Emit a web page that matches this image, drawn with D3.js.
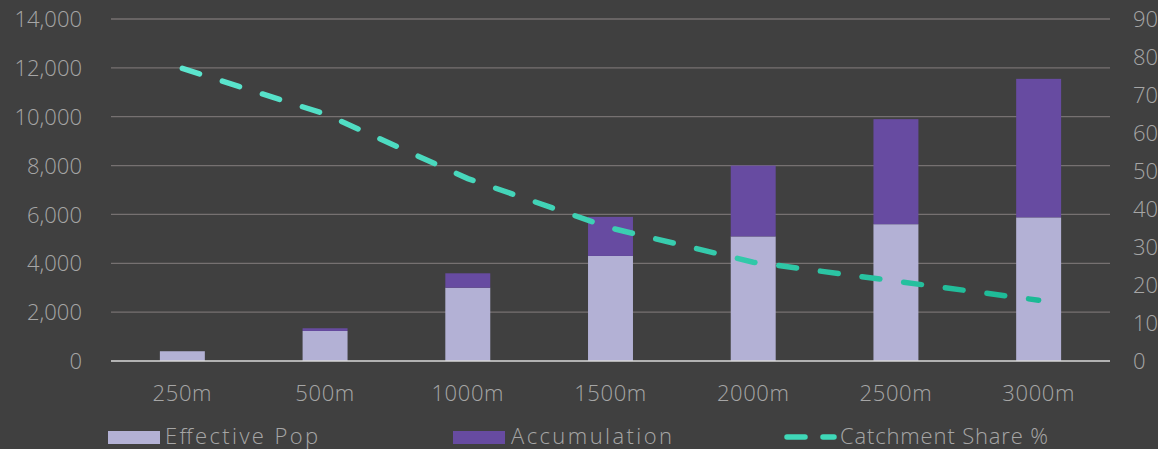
<!DOCTYPE html>
<html>
<head>
<meta charset="utf-8">
<script src="https://cdn.jsdelivr.net/npm/d3@7"></script>
<style>
  html, body { margin: 0; padding: 0; background: #404040; overflow: hidden; }
  svg { display: block; }
  text { font-family: "Open Sans", "DejaVu Sans", sans-serif; font-weight: 300; fill: #a6a6a6; }
</style>
</head>
<body>
<svg id="chart" width="1158" height="449"></svg>
<script>
const categories = ["250m", "500m", "1000m", "1500m", "2000m", "2500m", "3000m"];
const effectivePop = [400, 1230, 3000, 4300, 5100, 5600, 5880];
const accumulation = [0, 110, 590, 1600, 2900, 4300, 5670];
const catchmentShare = [77, 65, 48, 35, 26, 21, 16];
const leftTicks = [0, 2000, 4000, 6000, 8000, 10000, 12000, 14000];
const rightTicks = [0, 10, 20, 30, 40, 50, 60, 70, 80, 90];
const seriesNames = ["Effective Pop", "Accumulation", "Catchment Share %"];

const W = 1158, H = 449;
const plot = { left: 111, right: 1110, top: 19, bottom: 361 };
const colors = { eff: "#b3b1d5", acc: "#674ba1", grid: "#767171", base: "#d9d9d9" };

const svg = d3.select("#chart");
svg.append("rect").attr("width", W).attr("height", H).attr("fill", "#404040");

const defs = svg.append("defs");
const grad = defs.append("linearGradient").attr("id", "lineGrad")
  .attr("gradientUnits", "userSpaceOnUse")
  .attr("x1", 180).attr("y1", 0).attr("x2", 1040).attr("y2", 0);
grad.append("stop").attr("offset", "0%").attr("stop-color", "#5de6cf");
grad.append("stop").attr("offset", "100%").attr("stop-color", "#1bb995");

const x = d3.scaleBand().domain(categories).range([plot.left, plot.right])
  .paddingInner(0.685).paddingOuter(0.3425);
const y = d3.scaleLinear().domain([0, 14000]).range([plot.bottom, plot.top]);
const y2 = d3.scaleLinear().domain([0, 90]).range([plot.bottom, plot.top]);

// gridlines
svg.append("g").selectAll("line").data(leftTicks.filter(d => d > 0)).join("line")
  .attr("x1", plot.left).attr("x2", plot.right)
  .attr("y1", d => y(d)).attr("y2", d => y(d))
  .attr("stroke", colors.grid).attr("stroke-width", 1.3);

// left axis labels
const leftAxis = d3.axisLeft(y).tickValues(leftTicks).tickFormat(d3.format(",")).tickSize(0).tickPadding(0);
const gl = svg.append("g").attr("transform", "translate(82,0)").call(leftAxis);
gl.select(".domain").remove();
gl.selectAll("text").attr("font-size", 22).attr("fill", "#a6a6a6").attr("dy", "0.35em");

// right axis labels
const rightAxis = d3.axisRight(y2).tickValues(rightTicks).tickSize(0).tickPadding(0);
const gr = svg.append("g").attr("transform", "translate(1133,0)").call(rightAxis);
gr.select(".domain").remove();
gr.selectAll("text").attr("font-size", 22).attr("fill", "#a6a6a6").attr("dy", "0.35em");

// bars
const stackData = categories.map((c, i) => ({ cat: c, eff: effectivePop[i], acc: accumulation[i] }));
const stack = d3.stack().keys(["eff", "acc"])(stackData);
svg.append("g").selectAll("g").data(stack).join("g")
  .attr("fill", d => colors[d.key])
  .selectAll("rect").data(d => d).join("rect")
  .attr("x", d => x(d.data.cat))
  .attr("width", x.bandwidth())
  .attr("y", d => y(d[1]))
  .attr("height", d => Math.max(0, y(d[0]) - y(d[1])));

// baseline
svg.append("line").attr("x1", plot.left).attr("x2", plot.right)
  .attr("y1", plot.bottom).attr("y2", plot.bottom)
  .attr("stroke", colors.base).attr("stroke-width", 1.5);

// x labels
const bottomAxis = d3.axisBottom(x).tickSize(0).tickPadding(0);
const gb = svg.append("g").attr("transform", "translate(0,401)").call(bottomAxis);
gb.select(".domain").remove();
gb.selectAll("text").attr("font-size", 22).attr("fill", "#a6a6a6").attr("dy", 0)
  .attr("letter-spacing", 0.6);

// line
const line = d3.line()
  .x((d, i) => x(categories[i]) + x.bandwidth() / 2)
  .y(d => y2(d));
svg.append("path").datum(catchmentShare)
  .attr("d", line).attr("fill", "none")
  .attr("stroke", "url(#lineGrad)").attr("stroke-width", 5.5)
  .attr("stroke-linecap", "round").attr("stroke-dasharray", "18 24");

// legend
const lg = svg.append("g");
lg.append("rect").attr("x", 108).attr("y", 431).attr("width", 52).attr("height", 13).attr("fill", colors.eff);
lg.append("text").attr("x", 165).attr("y", 444).attr("font-size", 22)
  .attr("textLength", 153).attr("lengthAdjust", "spacing").text(seriesNames[0]);
lg.append("rect").attr("x", 453).attr("y", 431).attr("width", 52).attr("height", 13).attr("fill", colors.acc);
lg.append("text").attr("x", 511).attr("y", 444).attr("font-size", 22)
  .attr("textLength", 161).attr("lengthAdjust", "spacing").text(seriesNames[1]);
lg.append("line").attr("x1", 787).attr("x2", 834).attr("y1", 437).attr("y2", 437)
  .attr("stroke", "#3fd8b8").attr("stroke-width", 5.5).attr("stroke-linecap", "round")
  .attr("stroke-dasharray", "18 18");
lg.append("text").attr("x", 840).attr("y", 444).attr("font-size", 22)
  .attr("textLength", 208).attr("lengthAdjust", "spacing").text(seriesNames[2]);
</script>
</body>
</html>
